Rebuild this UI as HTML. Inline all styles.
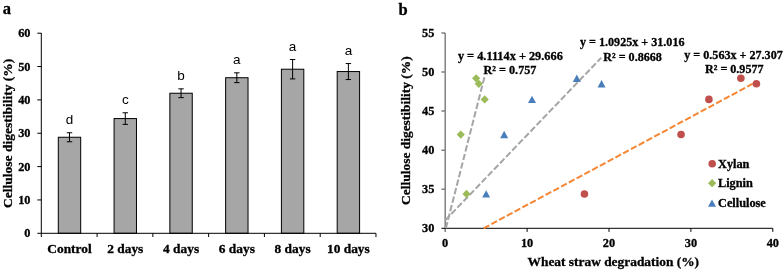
<!DOCTYPE html><html><head><meta charset="utf-8"><style>html,body{margin:0;padding:0;background:#fff}svg{display:block;will-change:transform}.t text{stroke:#000;stroke-width:.3px;paint-order:stroke}.t text.n{stroke:none}</style></head><body><svg width="784" height="271" viewBox="0 0 784 271"><rect width="784" height="271" fill="#fff"/><g font-family="Liberation Serif, serif" font-weight="bold" fill="#000" class="t"><text x="2.8" y="14.4" font-size="16.5">a</text><text x="398.6" y="14.5" font-size="16.5">b</text><rect x="58.29" y="137.25" width="22.4" height="96.05" fill="#a6a6a6" stroke="#000" stroke-width="1"/><path d="M69.49 132.75V141.75M66.79 132.75h5.4M66.79 141.75h5.4" stroke="#000" stroke-width="1" fill="none"/><text x="69.49" y="123.95" font-size="13.5" text-anchor="middle" font-family="Liberation Sans, sans-serif" font-weight="normal" class="n">d</text><text x="69.49" y="252.9" font-size="13.4" text-anchor="middle">Control</text><rect x="114.07" y="118.58" width="22.4" height="114.72" fill="#a6a6a6" stroke="#000" stroke-width="1"/><path d="M125.27 112.78V124.38M122.57 112.78h5.4M122.57 124.38h5.4" stroke="#000" stroke-width="1" fill="none"/><text x="125.27" y="103.98" font-size="13.5" text-anchor="middle" font-family="Liberation Sans, sans-serif" font-weight="normal" class="n">c</text><text x="125.27" y="252.9" font-size="13.4" text-anchor="middle">2 days</text><rect x="169.85" y="93.23" width="22.4" height="140.07" fill="#a6a6a6" stroke="#000" stroke-width="1"/><path d="M181.05 88.83V97.63M178.35 88.83h5.4M178.35 97.63h5.4" stroke="#000" stroke-width="1" fill="none"/><text x="181.05" y="80.03" font-size="13.5" text-anchor="middle" font-family="Liberation Sans, sans-serif" font-weight="normal" class="n">b</text><text x="181.05" y="252.9" font-size="13.4" text-anchor="middle">4 days</text><rect x="225.63" y="77.72" width="22.4" height="155.58" fill="#a6a6a6" stroke="#000" stroke-width="1"/><path d="M236.83 72.82V82.62M234.13 72.82h5.4M234.13 82.62h5.4" stroke="#000" stroke-width="1" fill="none"/><text x="236.83" y="64.02" font-size="13.5" text-anchor="middle" font-family="Liberation Sans, sans-serif" font-weight="normal" class="n">a</text><text x="236.83" y="252.9" font-size="13.4" text-anchor="middle">6 days</text><rect x="281.41" y="69.22" width="22.4" height="164.08" fill="#a6a6a6" stroke="#000" stroke-width="1"/><path d="M292.61 59.52V78.92M289.91 59.52h5.4M289.91 78.92h5.4" stroke="#000" stroke-width="1" fill="none"/><text x="292.61" y="50.72" font-size="13.5" text-anchor="middle" font-family="Liberation Sans, sans-serif" font-weight="normal" class="n">a</text><text x="292.61" y="252.9" font-size="13.4" text-anchor="middle">8 days</text><rect x="337.19" y="71.55" width="22.4" height="161.75" fill="#a6a6a6" stroke="#000" stroke-width="1"/><path d="M348.39 63.55V79.55M345.69 63.55h5.4M345.69 79.55h5.4" stroke="#000" stroke-width="1" fill="none"/><text x="348.39" y="54.75" font-size="13.5" text-anchor="middle" font-family="Liberation Sans, sans-serif" font-weight="normal" class="n">a</text><text x="348.39" y="252.9" font-size="13.4" text-anchor="middle">10 days</text><text x="30.5" y="237.40" font-size="12.3" text-anchor="end">0</text><text x="30.5" y="204.05" font-size="12.3" text-anchor="end">10</text><text x="30.5" y="170.70" font-size="12.3" text-anchor="end">20</text><text x="30.5" y="137.35" font-size="12.3" text-anchor="end">30</text><text x="30.5" y="104.00" font-size="12.3" text-anchor="end">40</text><text x="30.5" y="70.65" font-size="12.3" text-anchor="end">50</text><text x="30.5" y="37.30" font-size="12.3" text-anchor="end">60</text><path d="M41.3 33V233.3H375.98M37.3 233.30H41.3M37.3 199.95H41.3M37.3 166.60H41.3M37.3 133.25H41.3M37.3 99.90H41.3M37.3 66.55H41.3M37.3 33.20H41.3M41.30 233.3V237.0M97.08 233.3V237.0M152.86 233.3V237.0M208.64 233.3V237.0M264.42 233.3V237.0M320.20 233.3V237.0M375.98 233.3V237.0" stroke="#000" stroke-width="1" fill="none"/><text transform="translate(11.5 133.3) rotate(-90)" font-size="13.5" text-anchor="middle">Cellulose digestibility (%)</text><text x="434.3" y="232.20" font-size="12.3" text-anchor="end">30</text><text x="434.3" y="193.14" font-size="12.3" text-anchor="end">35</text><text x="434.3" y="154.08" font-size="12.3" text-anchor="end">40</text><text x="434.3" y="115.02" font-size="12.3" text-anchor="end">45</text><text x="434.3" y="75.96" font-size="12.3" text-anchor="end">50</text><text x="434.3" y="36.90" font-size="12.3" text-anchor="end">55</text><text x="445.20" y="247.4" font-size="12.3" text-anchor="middle">0</text><text x="527.10" y="247.4" font-size="12.3" text-anchor="middle">10</text><text x="609.00" y="247.4" font-size="12.3" text-anchor="middle">20</text><text x="690.90" y="247.4" font-size="12.3" text-anchor="middle">30</text><text x="772.80" y="247.4" font-size="12.3" text-anchor="middle">40</text><path d="M445.2 33V231.9M441.4 189.24H445.2M441.4 150.18H445.2M441.4 111.12H445.2M441.4 72.06H445.2M441.4 33.00H445.2" stroke="#808080" stroke-width="1.5" fill="none"/><path d="M441.4 228.3H772.80M527.10 228.3V231.9M609.00 228.3V231.9M690.90 228.3V231.9M772.80 228.3V231.9" stroke="#000" stroke-width="1" fill="none"/><text transform="translate(410.2 130.6) rotate(-90)" font-size="13.45" text-anchor="middle">Cellulose digestibility (%)</text><text x="613.3" y="266.4" font-size="13.4" text-anchor="middle">Wheat straw degradation (%)</text><path d="M445.87 228.30L484.68 76.10" stroke="#a5a5a5" stroke-width="2" stroke-dasharray="6.4 2.4" fill="none"/><path d="M445.20 220.36L601.22 57.78" stroke="#a5a5a5" stroke-width="2" stroke-dasharray="6.4 2.4" fill="none"/><path d="M483.60 228.30L756.42 81.79" stroke="#f58634" stroke-width="2" stroke-dasharray="6.4 2.4" fill="none"/><circle cx="584.43" cy="193.93" r="3.8" fill="#c0504d"/><circle cx="681.07" cy="134.56" r="3.8" fill="#c0504d"/><circle cx="708.92" cy="99.40" r="3.8" fill="#c0504d"/><circle cx="740.86" cy="78.31" r="3.8" fill="#c0504d"/><circle cx="756.42" cy="83.78" r="3.8" fill="#c0504d"/><path d="M462.39 193.93L466.49 189.83L470.59 193.93L466.49 198.03Z" fill="#9bbb59"/><path d="M456.66 134.56L460.76 130.46L464.86 134.56L460.76 138.66Z" fill="#9bbb59"/><path d="M480.58 99.40L484.68 95.30L488.78 99.40L484.68 103.50Z" fill="#9bbb59"/><path d="M472.06 78.31L476.16 74.21L480.26 78.31L476.16 82.41Z" fill="#9bbb59"/><path d="M474.68 83.78L478.78 79.68L482.88 83.78L478.78 87.88Z" fill="#9bbb59"/><path d="M482.15 197.53L486.15 190.23L490.15 197.53Z" fill="#4a7ebb"/><path d="M500.17 138.16L504.17 130.86L508.17 138.16Z" fill="#4a7ebb"/><path d="M528.01 103.00L532.01 95.70L536.01 103.00Z" fill="#4a7ebb"/><path d="M572.81 81.91L576.81 74.61L580.81 81.91Z" fill="#4a7ebb"/><path d="M597.55 87.38L601.55 80.08L605.55 87.38Z" fill="#4a7ebb"/><circle cx="712.2" cy="163.8" r="3.8" fill="#c0504d"/><path d="M708 183.2L712.1 179.1L716.2 183.2L712.1 187.3Z" fill="#9bbb59"/><path d="M708 206.8L712 199.5L716 206.8Z" fill="#4a7ebb"/><text x="718" y="168" font-size="12.3">Xylan</text><text x="718" y="186.7" font-size="12.3">Lignin</text><text x="718" y="207" font-size="12.3">Cellulose</text><text x="457.9" y="60" font-size="12.3">y = 4.1114x + 29.666</text><text x="483.5" y="73.7" font-size="12.2">R² = 0.757</text><text x="580" y="46.1" font-size="12.1">y = 1.0925x + 31.016</text><text x="603.3" y="60.5" font-size="12.1">R² = 0.8668</text><text x="684.3" y="58.7" font-size="12.1">y = 0.563x + 27.307</text><text x="705" y="72.8" font-size="12.1">R² = 0.9577</text></g></svg></body></html>
